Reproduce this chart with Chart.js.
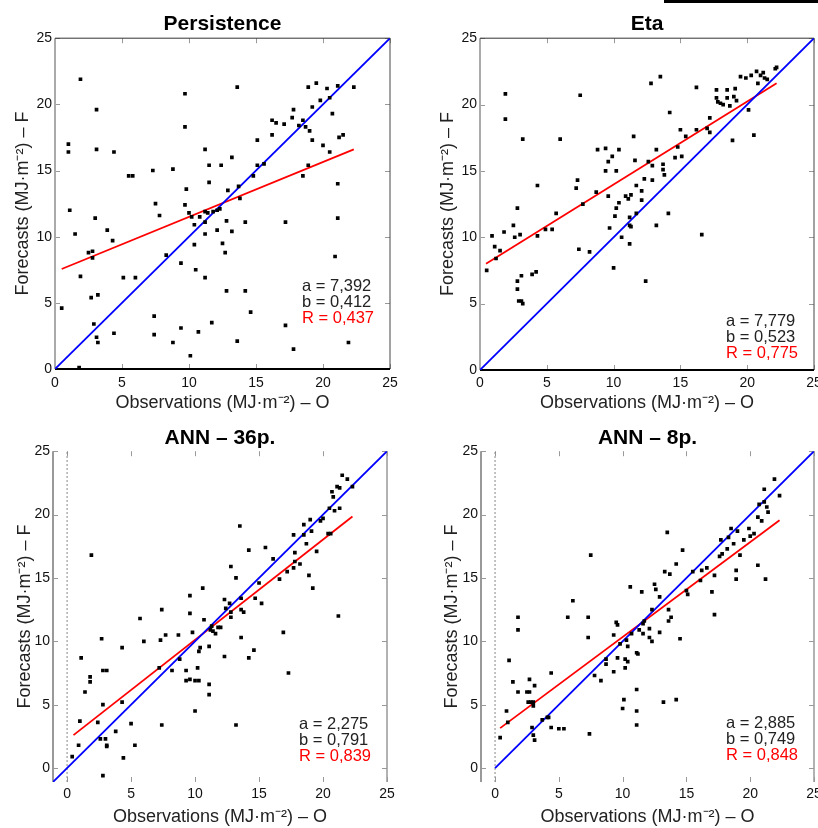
<!DOCTYPE html>
<html>
<head>
<meta charset="utf-8">
<script src="https://cdn.jsdelivr.net/npm/chart.js@4.4.1/dist/chart.umd.min.js"></script>
<style>
  body { margin: 0; background: #fff; }
  #wrap { position: relative; width: 818px; height: 828px; overflow: hidden; }
  #wrap canvas { position: absolute; }
  #bar { position: absolute; left: 664px; top: 0; width: 154px; height: 3px; background: #000; }
</style>
</head>
<body>
<div id="wrap">
  <canvas id="c1" width="409" height="414" style="left:0;top:0"></canvas>
  <canvas id="c2" width="409" height="414" style="left:409px;top:0"></canvas>
  <canvas id="c3" width="409" height="414" style="left:0;top:414px"></canvas>
  <canvas id="c4" width="409" height="414" style="left:409px;top:414px"></canvas>
  <div id="bar"></div>
</div>
<script>
const tickValues = [0, 5, 10, 15, 20, 25];
const panelTitles = ['Persistence', 'Eta', 'ANN \u2013 36p.', 'ANN \u2013 8p.'];
const xLabel = 'Observations (MJ\u00b7m\u207b\u00b2) \u2013 O';
const yLabel = 'Forecasts (MJ\u00b7m\u207b\u00b2) \u2013 F';

const persistenceObs = [1.9,3.1,1.0,1.0,3.1,4.4,1.1,1.5,3.0,3.9,4.3,2.5,2.8,2.8,1.9,0.5,2.7,3.2,2.9,3.1,3.2,4.4,1.8,5.1,6.0,5.5,5.8,7.3,7.5,7.8,8.8,8.3,7.4,7.4,8.8,9.4,9.4,9.7,9.7,9.8,9.7,10.0,10.2,10.8,10.4,10.4,10.5,10.1,10.7,11.2,11.5,11.5,11.2,11.4,11.8,11.2,11.2,11.2,11.7,12.1,12.3,12.4,12.1,12.5,12.7,12.8,12.9,12.8,13.2,13.2,13.6,13.7,13.8,14.2,14.2,13.6,14.6,14.8,15.1,15.1,15.6,16.2,16.2,16.5,17.1,17.2,17.2,17.7,17.8,17.8,18.2,18.5,18.5,18.7,18.9,18.9,19.0,19.2,19.2,19.5,19.8,20.0,20.3,20.5,20.5,20.7,20.9,21.1,21.1,21.1,21.2,21.5,21.9,22.3];
const persistenceFc = [21.9,19.6,17.0,16.4,16.6,16.4,12.0,10.2,11.4,10.5,9.7,8.8,8.9,8.4,7.0,4.6,5.4,5.6,3.4,2.4,2.0,2.7,0.1,6.9,6.9,14.6,14.6,15.0,12.5,11.6,15.1,8.6,4.0,2.6,2.0,3.1,8.0,20.8,18.3,13.6,12.4,11.8,11.5,11.5,10.9,9.4,7.5,1.0,2.8,16.6,15.4,14.1,11.9,11.8,11.9,11.1,10.2,6.9,3.5,12.0,12.1,15.4,10.5,9.5,8.8,5.9,13.5,11.2,16.0,10.4,21.3,13.8,12.9,11.1,5.9,2.1,4.3,14.6,17.3,15.4,15.5,18.8,17.7,18.6,18.5,11.1,3.3,19.0,19.6,1.5,18.4,14.6,18.8,18.3,21.3,15.4,18.0,19.8,17.3,21.6,20.3,16.9,21.2,20.5,16.4,19.3,8.5,11.4,14.0,21.4,17.5,17.7,2.0,21.3];

const etaObs = [0.5,0.9,1.1,1.2,1.5,1.8,1.9,1.9,2.5,2.6,2.8,3.0,3.2,2.8,2.8,3.1,2.9,3.1,3.2,3.9,4.2,4.3,4.3,4.9,5.4,5.7,6.0,7.3,7.2,7.4,7.5,7.7,8.2,8.7,8.8,9.4,9.4,9.6,9.6,9.7,9.9,10.0,10.1,10.2,10.4,10.2,10.4,10.6,10.9,11.1,11.3,11.2,11.2,11.3,11.2,11.5,11.6,11.7,11.7,12.1,12.1,12.3,12.4,12.6,12.8,12.9,12.9,13.2,13.2,13.5,13.7,13.7,13.8,14.1,14.2,14.6,14.8,15.0,15.1,15.4,16.2,16.2,16.6,17.0,17.2,17.2,17.7,17.7,17.8,18.0,18.2,18.5,18.5,18.7,18.9,19.0,19.1,19.2,19.5,19.9,20.1,20.3,20.5,20.7,20.8,21.0,21.2,21.3,21.5,22.1,22.2];
const etaFc = [7.5,10.1,9.3,8.4,9.0,10.4,20.8,18.9,10.9,10.0,12.2,10.2,17.4,6.7,6.1,7.1,5.2,5.2,5.0,7.2,7.4,13.9,10.1,10.6,10.6,11.8,17.4,14.3,13.7,9.1,20.7,12.5,8.9,13.4,16.6,16.7,15.0,15.7,13.1,10.7,16.1,7.7,11.6,12.2,12.6,15.0,16.6,10.0,13.1,12.9,13.2,11.5,10.9,10.8,9.5,17.6,15.8,13.9,11.8,13.5,12.8,14.4,6.7,15.7,21.6,14.3,15.4,16.6,10.9,22.1,15.5,15.1,14.7,11.8,19.4,16.0,16.8,18.1,16.1,17.6,18.1,21.3,10.2,18.2,17.9,19.0,21.1,20.5,20.2,20.1,20.0,21.1,20.5,19.9,17.3,20.6,21.2,20.3,22.1,22.0,19.6,22.2,17.7,22.5,21.6,22.2,22.4,22.0,21.9,22.7,22.8];

const ann36Obs = [0.4,0.9,1.0,1.1,1.4,1.8,1.8,1.9,2.4,2.6,2.8,2.7,2.8,3.1,2.8,3.0,3.1,3.1,3.8,4.3,4.3,4.4,5.0,5.3,5.7,6.0,7.2,7.3,7.4,7.4,7.7,8.2,8.7,8.8,9.3,9.3,9.6,9.6,9.6,9.8,10.0,10.0,10.2,10.3,10.3,10.4,10.6,10.7,11.1,11.1,11.1,11.2,11.3,11.4,11.6,11.8,12.0,12.3,12.3,12.4,12.7,12.8,12.8,12.8,13.2,13.2,13.5,13.6,13.6,13.8,13.6,14.2,14.2,14.6,14.7,15.0,15.2,15.5,16.1,16.6,16.9,17.2,17.3,17.7,17.7,17.8,17.8,18.2,18.5,18.5,18.7,18.9,19.0,19.1,19.2,19.5,19.8,20.0,20.4,20.5,20.6,20.7,20.8,20.9,21.1,21.3,21.3,21.2,21.5,21.9,22.3];
const ann36Fc = [0.9,1.8,3.7,8.7,6.0,7.2,6.8,16.8,3.6,2.3,-0.6,10.2,7.7,7.7,5.0,2.3,1.8,1.7,2.9,5.2,9.5,0.8,3.5,1.8,11.8,10.0,7.9,10.1,12.5,3.4,10.5,7.7,10.5,8.6,7.7,6.9,12.2,13.6,7.0,10.7,6.9,4.5,7.9,6.9,9.2,9.5,14.2,11.7,9.6,6.6,5.8,10.9,11.2,10.8,10.6,11.1,11.1,13.3,8.8,12.6,13.0,15.9,12.3,11.9,15.0,3.4,19.1,13.4,12.5,12.3,10.3,17.2,8.7,9.3,13.4,14.6,13.0,17.4,16.5,14.9,10.7,15.5,7.5,18.4,15.8,17.0,16.3,16.1,19.2,18.4,17.7,15.2,19.6,18.7,14.2,17.1,19.5,19.7,18.5,20.5,18.5,21.8,21.4,20.3,22.2,22.1,20.5,12.0,23.1,22.8,22.2];

const ann8Obs = [0.4,0.9,1.0,1.1,1.4,1.8,1.8,1.8,2.5,2.7,2.7,2.6,2.8,3.0,3.1,3.0,2.9,3.0,3.1,3.7,4.1,4.2,4.4,4.4,5.0,5.4,5.7,6.1,7.3,7.3,7.4,7.5,7.8,8.3,8.7,8.7,9.3,9.3,9.5,9.6,9.6,9.8,10.0,10.1,10.2,10.2,10.3,10.4,10.4,10.6,10.7,11.1,11.2,11.1,11.1,11.1,11.3,11.5,11.6,11.6,11.7,12.1,12.1,12.3,12.3,12.5,12.6,12.9,12.9,13.3,13.2,13.5,13.6,13.6,13.7,13.8,14.2,14.2,14.5,14.7,15.0,15.1,15.5,16.1,16.2,16.6,17.0,17.2,17.2,17.6,17.7,17.8,18.2,18.3,18.5,18.7,18.9,18.9,19.0,19.2,19.5,19.9,20.0,20.3,20.6,20.6,20.7,20.9,21.1,21.1,21.2,21.3,21.4,21.9,22.3];
const ann8Fc = [2.4,4.5,3.6,8.5,6.8,11.9,10.9,6.0,6.0,6.0,7.0,5.2,5.2,5.2,6.5,4.9,3.2,2.6,2.2,3.8,4.0,4.0,7.5,3.2,3.1,3.1,11.9,13.2,11.9,10.3,2.7,16.8,7.3,6.9,8.6,8.2,10.5,7.6,11.5,11.3,8.7,9.8,4.7,5.4,8.6,7.9,10.1,8.4,9.6,14.3,10.6,9.1,9.0,6.2,4.5,3.4,10.9,13.9,11.4,10.6,11.6,11.0,10.3,12.5,10.0,14.5,14.1,13.5,10.7,15.5,5.2,18.6,12.5,11.6,15.3,11.9,5.4,16.1,10.2,17.2,14.0,13.7,15.5,14.8,15.6,15.8,13.9,15.2,12.1,16.7,18.0,16.9,17.3,18.2,18.9,17.7,15.6,14.9,18.7,16.8,18.0,18.9,18.3,18.5,19.8,16.0,20.8,19.5,21.0,22.0,14.9,20.6,20.2,22.8,21.5];

// fitted line ends (F = a + b*O)
const fitObs = [[0.5, 22.3], [0.45, 22.2], [0.5, 22.3], [0.4, 22.3]];
const fitFc = [[7.56, 16.6], [8.0, 21.6], [2.6, 19.85], [3.15, 19.55]];
const fitA = ['7,392', '7,779', '2,275', '2,885'];
const fitB = ['0,412', '0,523', '0,791', '0,749'];
const fitR = ['0,437', '0,775', '0,839', '0,848'];

const FONT = "'Liberation Sans', Arial, Helvetica, sans-serif";

const framePlugin = {
  id: 'frame',
  beforeDatasetsDraw(chart, args, opts) {
    const { ctx, chartArea: a, scales: { x, y } } = chart;
    ctx.save();
    ctx.strokeStyle = '#999';
    ctx.lineWidth = 1;
    ctx.beginPath();
    tickValues.forEach(v => {
      const px = Math.round(x.getPixelForValue(v)) + 0.5;
      const py = Math.round(y.getPixelForValue(v)) + 0.5;
      ctx.moveTo(px, a.bottom); ctx.lineTo(px, a.bottom - 5);
      ctx.moveTo(px, a.top); ctx.lineTo(px, a.top + 5);
      ctx.moveTo(a.left, py); ctx.lineTo(a.left + 5, py);
      ctx.moveTo(a.right, py); ctx.lineTo(a.right - 5, py);
    });
    ctx.stroke();
    const e = opts.edges || {};
    const seg = (s, x1, y1, x2, y2) => {
      if (!s) return;
      ctx.strokeStyle = s[0];
      ctx.lineWidth = s[1];
      ctx.beginPath();
      ctx.moveTo(x1, y1);
      ctx.lineTo(x2, y2);
      ctx.stroke();
    };
    seg(e.left, a.left, a.top, a.left, a.bottom);
    seg(e.right, a.right, a.top, a.right, a.bottom);
    seg(e.top, a.left, a.top, a.right, a.top);
    seg(e.bottom, a.left, a.bottom, a.right, a.bottom);
    ctx.restore();
  },
  afterDraw(chart, args, opts) {
    const { ctx, chartArea: a } = chart;
    const i = opts.index;
    ctx.save();
    ctx.font = '16.5px ' + FONT;
    ctx.textAlign = 'left';
    ctx.textBaseline = 'middle';
    const lx = a.right - 88;
    const ly = a.bottom - opts.statsOffset;
    ctx.fillStyle = '#222';
    ctx.fillText('a = ' + fitA[i], lx, ly);
    ctx.fillText('b = ' + fitB[i], lx, ly + 16);
    ctx.fillStyle = '#ff0000';
    ctx.fillText('R = ' + fitR[i], lx, ly + 32);
    ctx.restore();
  }
};

function pairs(xs, ys) {
  return xs.map((v, k) => ({ x: v, y: ys[k] }));
}

function makePanel(id, i, obs, fc, p) {
  const datasets = [
    {
      data: pairs(obs, fc),
      pointStyle: 'rect', pointRadius: 2.6, backgroundColor: '#000', borderWidth: 0,
      showLine: false, order: 0
    },
    {
      data: pairs(fitObs[i], fitFc[i]),
      showLine: true, borderColor: '#ff0000', borderWidth: 1.8, pointRadius: 0, order: 2
    },
    {
      data: pairs(p.diag, p.diag),
      showLine: true, borderColor: '#0000ff', borderWidth: 1.8, pointRadius: 0, order: 1
    }
  ];
  if (p.zeroLine) {
    datasets.push({
      data: [{ x: 0, y: p.min }, { x: 0, y: 25 }],
      showLine: true, borderColor: '#888', borderWidth: 1, borderDash: [2, 2], pointRadius: 0, order: 3
    });
  }
  const setTicks = s => { s.ticks = tickValues.map(v => ({ value: v })); };
  new Chart(document.getElementById(id), {
    type: 'scatter',
    data: { datasets },
    plugins: [framePlugin],
    options: {
      responsive: false,
      animation: false,
      devicePixelRatio: 1,
      layout: { padding: { left: 0, right: p.padR, top: 0, bottom: 0 } },
      plugins: {
        legend: { display: false },
        tooltip: { enabled: false },
        title: {
          display: true, text: panelTitles[i], fullSize: false, color: '#000',
          font: { family: FONT, size: 21, weight: 'bold' },
          padding: { top: 12, bottom: p.titleBottom }
        },
        frame: { edges: p.edges, index: i, statsOffset: p.statsOffset }
      },
      scales: {
        x: {
          type: 'linear', min: p.min, max: 25,
          afterBuildTicks: setTicks,
          afterFit: s => { s.height = p.xH; s.paddingLeft = 0; s.paddingRight = 0; },
          grid: { display: false, drawTicks: false }, border: { display: false },
          ticks: { color: '#111', font: { family: FONT, size: 14 }, padding: p.xTickPad, maxRotation: 0, autoSkip: false },
          title: { display: true, text: xLabel, color: '#222', font: { family: FONT, size: 18 }, padding: { top: 0, bottom: 0 } }
        },
        y: {
          type: 'linear', min: p.min, max: 25,
          afterBuildTicks: setTicks,
          afterFit: s => { s.width = p.yW; s.paddingTop = 0; s.paddingBottom = 0; },
          grid: { display: false, drawTicks: false }, border: { display: false },
          ticks: { color: '#111', font: { family: FONT, size: 14 }, padding: 3, autoSkip: false },
          title: { display: true, text: yLabel, color: '#222', font: { family: FONT, size: 18 }, padding: { top: p.yTitlePad, bottom: 0 } }
        }
      }
    }
  });
}

const darkEdges = { left: ['#aaa', 2], right: ['#444', 1], top: ['#333', 1], bottom: ['#000', 2] };
const openEdges = { left: ['#999', 2], right: ['#999', 1.5] };

makePanel('c1', 0, persistenceObs, persistenceFc, {
  min: 0, diag: [0, 25], padR: 19, yW: 55, xH: 45, titleBottom: 1, xTickPad: 6, yTitlePad: 12,
  edges: darkEdges, statsOffset: 83
});
makePanel('c2', 1, etaObs, etaFc, {
  min: 0, diag: [0, 25], padR: 4, yW: 71, xH: 44, titleBottom: 1, xTickPad: 5, yTitlePad: 28,
  edges: darkEdges, statsOffset: 49
});
makePanel('c3', 2, ann36Obs, ann36Fc, {
  min: -1.1, diag: [-1.1, 25], padR: 22, yW: 53, xH: 46, titleBottom: 0, xTickPad: 4, yTitlePad: 14,
  edges: openEdges, statsOffset: 58, zeroLine: true
});
makePanel('c4', 3, ann8Obs, ann8Fc, {
  min: -1.1, diag: [0, 25], padR: 2, yW: 72, xH: 46, titleBottom: 0, xTickPad: 4, yTitlePad: 32,
  edges: openEdges, statsOffset: 59, zeroLine: true
});
</script>
</body>
</html>
